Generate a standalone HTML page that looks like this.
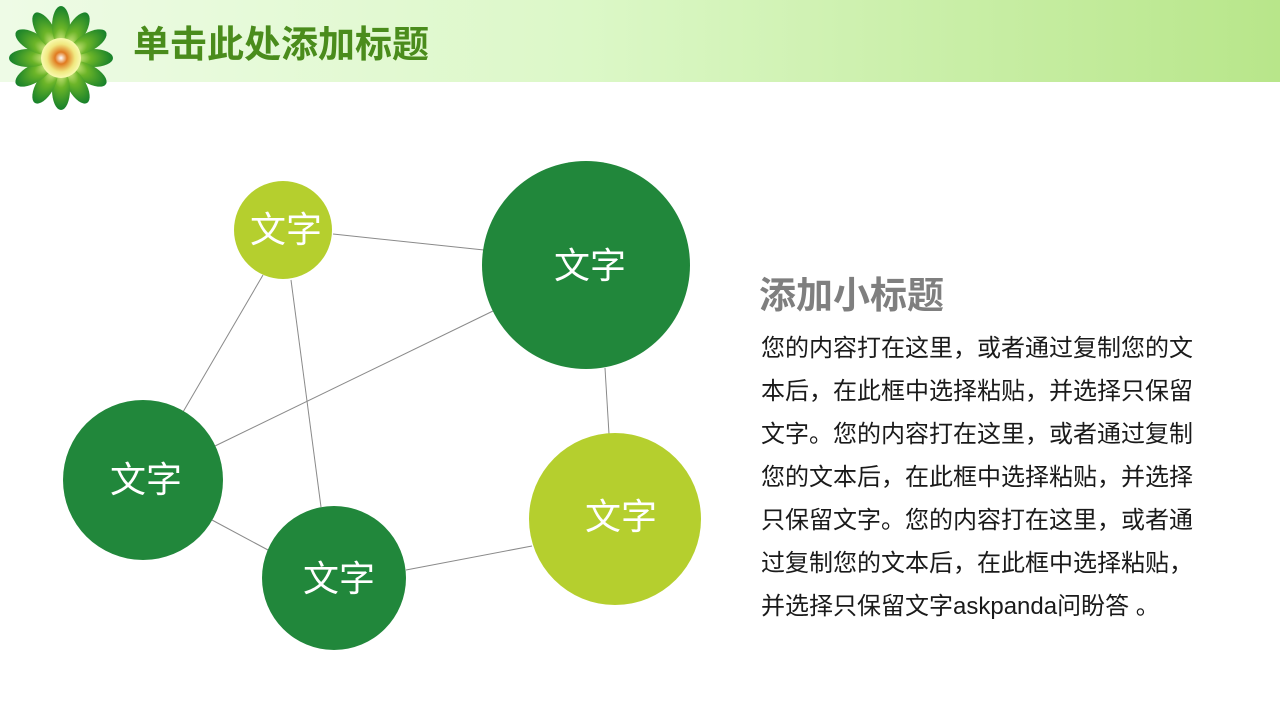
<!DOCTYPE html>
<html><head><meta charset="utf-8"><style>
body{margin:0;width:1280px;height:720px;position:relative;overflow:hidden;background:#fff;font-family:"Liberation Sans","Noto Sans CJK SC",sans-serif}
.hdr{position:absolute;left:0;top:0;width:1280px;height:82px;background:linear-gradient(90deg,#eefbe6 0%,#dcf8c8 45%,#b8e68a 100%)}
.title{position:absolute;left:133px;top:22px;font-size:37px;font-weight:bold;color:#4a8c1c;line-height:46px;white-space:nowrap}
.sub{position:absolute;left:759px;top:273px;font-size:37px;font-weight:bold;color:#7f7f7f;line-height:46px;white-space:nowrap}
.p{position:absolute;left:761px;top:327px;font-size:24px;letter-spacing:0px;line-height:43px;color:#1a1a1a;white-space:nowrap}
</style></head><body>
<div class="hdr"></div>
<svg style="position:absolute;left:0;top:0" width="1280" height="720">
<defs><radialGradient id="pg" cx="0" cy="0.5" r="1"><stop offset="0" stop-color="#f4f8a0"/><stop offset="0.45" stop-color="#6cb528"/><stop offset="1" stop-color="#15802a"/></radialGradient>
<radialGradient id="cg"><stop offset="0" stop-color="#fff"/><stop offset="0.3" stop-color="#e07a20"/><stop offset="0.7" stop-color="#f0e880"/><stop offset="1" stop-color="#f8fbb0"/></radialGradient></defs>
<g transform="translate(61,58)">
<g id="pt"><ellipse cx="32" cy="0" rx="20" ry="9" fill="url(#pg)"/></g>
<use href="#pt" transform="rotate(30)"/><use href="#pt" transform="rotate(60)"/><use href="#pt" transform="rotate(90)"/><use href="#pt" transform="rotate(120)"/><use href="#pt" transform="rotate(150)"/><use href="#pt" transform="rotate(180)"/><use href="#pt" transform="rotate(210)"/><use href="#pt" transform="rotate(240)"/><use href="#pt" transform="rotate(270)"/><use href="#pt" transform="rotate(300)"/><use href="#pt" transform="rotate(330)"/>
<circle r="20" fill="url(#cg)"/>
</g>
<g stroke="#8a8a8a" stroke-width="1">
<line x1="263" y1="275" x2="183" y2="412"/><line x1="291" y1="280" x2="321" y2="507"/>
<line x1="333" y1="234" x2="484" y2="250"/><line x1="493" y1="311" x2="215" y2="446"/>
<line x1="212" y1="520" x2="268" y2="550"/><line x1="406" y1="570" x2="532" y2="546"/>
<line x1="605" y1="368" x2="609" y2="434"/>
</g>
<circle cx="283" cy="230" r="49" fill="#b5cf2e"/>
<circle cx="586" cy="265" r="104" fill="#21873b"/>
<circle cx="143" cy="480" r="80" fill="#21873b"/>
<circle cx="334" cy="578" r="72" fill="#21873b"/>
<circle cx="615" cy="519" r="86" fill="#b5cf2e"/>
<g fill="#fff" font-size="36" text-anchor="middle" font-family="Liberation Sans,Noto Sans CJK SC,sans-serif">
<text x="286" y="242">文字</text><text x="590" y="278">文字</text><text x="146" y="492">文字</text><text x="339" y="591">文字</text><text x="621" y="529">文字</text>
</g>
</svg>
<div class="title">单击此处添加标题</div>
<div class="sub">添加小标题</div>
<div class="p">您的内容打在这里，或者通过复制您的文<br>本后，在此框中选择粘贴，并选择只保留<br>文字。您的内容打在这里，或者通过复制<br>您的文本后，在此框中选择粘贴，并选择<br>只保留文字。您的内容打在这里，或者通<br>过复制您的文本后，在此框中选择粘贴，<br>并选择只保留文字askpanda问盼答 。</div>
</body></html>
